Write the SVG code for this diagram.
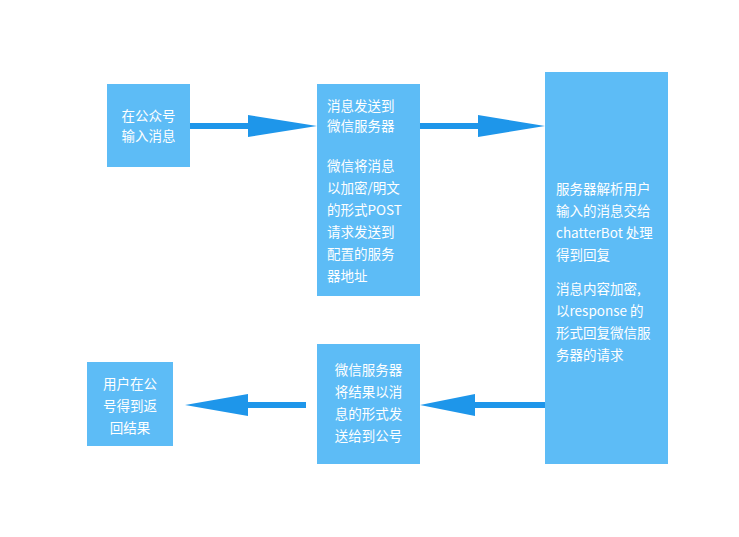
<svg xmlns="http://www.w3.org/2000/svg" width="739" height="537" viewBox="0 0 739 537">
<style>
.box{fill:#5dbcf6}
text{font-family:"Noto Sans CJK SC","Liberation Sans",sans-serif;font-size:13.5px;fill:#fff}
.ln{stroke:#1e96ea;stroke-width:6}
.hd{fill:#1e96ea}
</style>
<rect width="739" height="537" fill="#fff"/>
<g id="n1"><rect class="box" x="107" y="84" width="83" height="83"/>
<text x="148.5" y="121" text-anchor="middle">在公众号</text><text x="148.5" y="141" text-anchor="middle">输入消息</text></g>
<g id="n2"><rect class="box" x="317" y="84" width="103" height="212"/>
<text x="327" y="111">消息发送到</text><text x="327" y="131">微信服务器</text>
<text x="327" y="171">微信将消息</text><text x="327" y="193">以加密/明文</text><text x="327" y="215">的形式POST</text><text x="327" y="237">请求发送到</text><text x="327" y="259">配置的服务</text><text x="327" y="281">器地址</text></g>
<g id="n3"><rect class="box" x="545" y="72" width="123" height="392"/>
<text x="556" y="194">服务器解析用户</text><text x="556" y="216">输入的消息交给</text><text x="556" y="238">chatterBot 处理</text><text x="556" y="260">得到回复</text>
<text x="556" y="294">消息内容加密,</text><text x="556" y="316">以response 的</text><text x="556" y="338">形式回复微信服</text><text x="556" y="360">务器的请求</text></g>
<g id="n4"><rect class="box" x="317" y="344" width="103" height="120"/>
<text x="368.5" y="375" text-anchor="middle">微信服务器</text><text x="368.5" y="397" text-anchor="middle">将结果以消</text><text x="368.5" y="419" text-anchor="middle">息的形式发</text><text x="368.5" y="441" text-anchor="middle">送给到公号</text></g>
<g id="n5"><rect class="box" x="87" y="362" width="86" height="84"/>
<text x="130" y="389" text-anchor="middle">用户在公</text><text x="130" y="411" text-anchor="middle">号得到返</text><text x="130" y="433" text-anchor="middle">回结果</text></g>
<g id="connectors">
<line class="ln" x1="190" y1="126" x2="260" y2="126"/><polygon class="hd" points="248,115 317,126 248,137"/>
<line class="ln" x1="420" y1="126" x2="490" y2="126"/><polygon class="hd" points="478,115 545,126 478,137"/>
<line class="ln" x1="545" y1="405" x2="465" y2="405"/><polygon class="hd" points="475,394 420,405 475,416"/>
<line class="ln" x1="306" y1="405" x2="235" y2="405"/><polygon class="hd" points="248,394 185,405 248,416"/>
</g>
</svg>
